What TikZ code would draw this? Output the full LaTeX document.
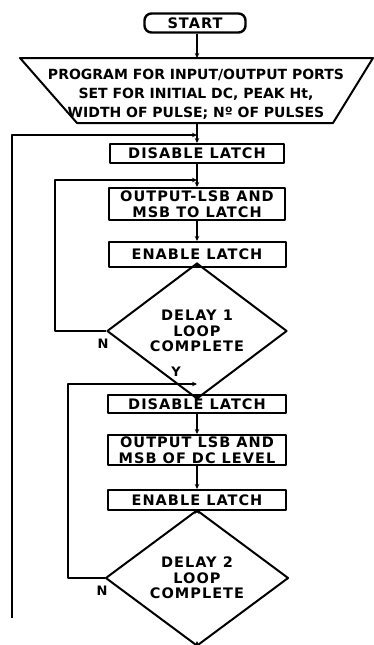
\documentclass[tikz,border=0pt]{standalone}
\usepackage{fontspec}
\setmainfont{DejaVu Sans}
\newfontfamily\spaced[LetterSpace=7]{DejaVu Sans}
\usetikzlibrary{shapes.geometric,arrows.meta}
\begin{document}
\begin{tikzpicture}[x=1pt,y=-1pt,line width=2pt,line join=round,
  txt/.style={font=\spaced\fontsize{14.5}{16}\selectfont\bfseries},
  box/.style={draw,rectangle,inner sep=0pt,txt,align=center},
  dec/.style={draw,diamond,inner sep=0pt,align=center,font=\spaced\fontsize{14.5}{15.5}\selectfont\bfseries},
  arr/.style={-{Stealth[length=5pt,width=4.5pt]}},
  lab/.style={font=\fontsize{13}{15}\selectfont\bfseries}]
\useasboundingbox (0,0) rectangle (374,645);
% start
\node[box,rounded corners=7pt,minimum width=101pt,minimum height=19pt,line width=2.4pt] (start) at (195,23) {START};
% program trapezium
\coordinate (pt) at (197,58);
\coordinate (pb) at (197,123);
\draw (20,58) -- (373,58) -- (333,123) -- (77,123) -- cycle;
\node[align=center,font=\fontsize{14}{19}\selectfont\bfseries] (prog) at (196,94) {PROGRAM FOR INPUT/OUTPUT PORTS\\SET FOR INITIAL DC, PEAK Ht,\\WIDTH OF PULSE; Nº OF PULSES};
% boxes
\node[box,minimum width=174pt,minimum height=19pt] (dis1) at (197,153.5) {DISABLE LATCH};
\node[box,minimum width=176pt,minimum height=32pt] (out1) at (197,204) {OUTPUT-LSB AND\\MSB TO LATCH};
\node[box,minimum width=177pt,minimum height=25pt] (en1) at (197,254.5) {ENABLE LATCH};
\node[dec,minimum width=180pt,minimum height=92pt] (d1) at (197,331) {DELAY 1\\LOOP\\COMPLETE};
\node[box,minimum width=178pt,minimum height=18pt] (dis2) at (197,404) {DISABLE LATCH};
\node[box,minimum width=178pt,minimum height=30pt] (out2) at (197,450) {OUTPUT LSB AND\\MSB OF DC LEVEL};
\node[box,minimum width=178pt,minimum height=20pt] (en2) at (197,500) {ENABLE LATCH};
\node[dec,minimum width=183pt,minimum height=85pt] (d2) at (197,578) {DELAY 2\\LOOP\\COMPLETE};
% connectors
\coordinate (j0) at (197,135);
\coordinate (j1) at (197,180);
\coordinate (j2) at (197,384);
\coordinate (oend) at (12,618);
\coordinate (bend) at (197,641);
\draw[arr] (start.south -| pt) -- (pt);
\draw[arr] (pb) -- (dis1);
\draw[arr] (oend) -- (12,135) -- (j0);
\draw[arr] (dis1) -- (out1);
\draw[arr] (d1.west) -- (55,331) -- (55,180) -- (j1);
\draw[arr] (out1) -- (en1);
\draw[arr] (en1) -- (d1);
\draw[arr] (d1) -- (dis2);
\draw[arr] (d2.west) -- (68,578) -- (68,384) -- (j2);
\draw[arr] (dis2) -- (out2);
\draw[arr] (out2) -- (en2);
\draw[arr] (en2) -- (d2);
\draw[arr] (d2) -- (bend);
% labels
\node[lab] (n1) at (103,344) {N};
\node[lab] (y1) at (176,372) {Y};
\node[lab] (n2) at (102,591) {N};
\end{tikzpicture}
\end{document}
